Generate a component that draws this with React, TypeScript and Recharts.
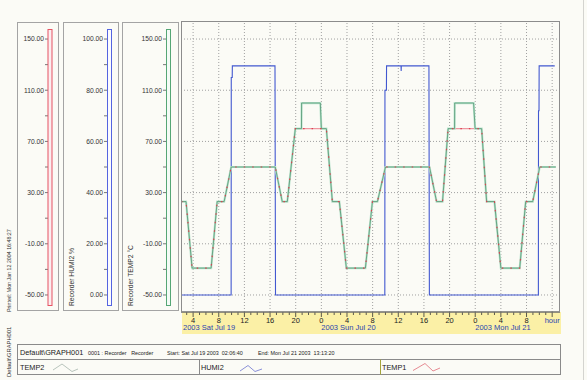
import { ComposedChart, Line, XAxis, YAxis, ReferenceLine } from "recharts";

const FONT = '"Liberation Sans", Arial, sans-serif';

// hours counted from Sat Jul 19 2003 00:00
const temp1Hours = [2.11, 2.9, 3.84, 6.81, 7.75, 8.84, 9.94, 16.81, 17.9, 18.69, 19.94, 24.78, 25.72, 26.81, 27.9, 30.87, 31.97, 32.75, 34.0, 40.87, 41.97, 42.9, 43.77, 49.0, 49.78, 51.0, 52.0, 54.94, 55.87, 56.97, 58.06, 60.56];
const temp1Values = [23, 23, -29, -29, 23, 23, 50, 50, 23, 23, 80, 80, 23, 23, -29, -29, 23, 23, 50, 50, 23, 23, 80, 80, 23, 23, -29, -29, 23, 23, 50, 50];

const temp2Hours = [2.11, 2.9, 3.84, 6.81, 7.75, 8.84, 9.94, 16.81, 17.9, 18.69, 19.94, 20.9, 20.92, 23.84, 24.0, 24.78, 25.72, 26.81, 27.9, 30.87, 31.97, 32.75, 34.0, 40.87, 41.97, 42.9, 43.77, 44.78, 44.8, 47.75, 47.98, 49.0, 49.78, 51.0, 52.0, 54.94, 55.87, 56.97, 58.06, 60.56];
const temp2Values = [23, 23, -29, -29, 23, 23, 50, 50, 23, 23, 80, 80, 100, 100, 80, 80, 23, 23, -29, -29, 23, 23, 50, 50, 23, 23, 80, 80, 100, 100, 80, 80, 23, 23, -29, -29, 23, 23, 50, 50];

const humiHours = [2.11, 9.93, 9.95, 10.1, 10.12, 16.77, 16.85, 33.9, 33.92, 34.15, 34.17, 36.43, 36.45, 36.47, 40.78, 40.85, 57.85, 57.87, 57.95, 57.97, 60.4];
const humiValues = [0, 0, 85, 85, 89.5, 89.5, 0, 0, 80, 80, 89.5, 89.5, 87.5, 89.5, 89.5, 0, 0, 72, 72, 89.5, 89.5];

const tempTicks = [-50, -30, -10, 10, 30, 50, 70, 90, 110, 130, 150];
const tempLabelled = [-50, -10, 30, 70, 110, 150];
const humiTicks = [0, 10, 20, 30, 40, 50, 60, 70, 80, 90, 100];
const humiLabelled = [0, 20, 40, 60, 80, 100];
const gridHours = [4, 8, 12, 16, 20, 24, 28, 32, 36, 40, 44, 48, 52, 56, 60];
const hourTicks = Array.from({ length: 58 }, (_, i) => i + 3);
const dayLabels = ["2003 Sat Jul 19", "2003 Sun Jul 20", "2003 Mon Jul 21"];
const seriesNames = ["TEMP2", "HUMI2", "TEMP1"];

const temp1Data = temp1Hours.map((h, i) => ({ h, v: temp1Values[i] }));
const temp2Data = temp2Hours.map((h, i) => ({ h, v: temp2Values[i] }));
const humiData = humiHours.map((h, i) => ({ h, v: humiValues[i] }));

const TEMP_DOMAIN = [-63.3, 164.1];
const HUMI_DOMAIN = [-6.65, 107.05];

const BLUE_TEXT = "#2b44b0";

function HourTick(props: any) {
  const { x, y, payload } = props;
  const h: number = payload.value;
  const major = h % 4 === 0;
  return (
    <g>
      <line x1={x} x2={x} y1={y} y2={y + (major ? 5 : 3)} stroke="#333" strokeWidth={0.8} />
      {major && h !== 60 && (
        <text x={x} y={y + 10.5} textAnchor="middle" fontSize={7.5} fill="#222" fontFamily={FONT}>
          {h % 24}
        </text>
      )}
      {h === 60 && (
        <text x={x} y={y + 10.5} textAnchor="middle" fontSize={7.5} fill={BLUE_TEXT} fontFamily={FONT}>
          hour
        </text>
      )}
      {h % 24 === 0 && (
        <text x={x} y={y + 18} textAnchor="start" fontSize={7.5} fill={BLUE_TEXT} fontFamily={FONT}>
          {dayLabels[h / 24]}
        </text>
      )}
    </g>
  );
}

const tickStyle = { fontSize: 6.7, fill: "#333", fontFamily: FONT };
const fmtTemp = (v: number) => (tempLabelled.includes(v) ? v.toFixed(2) : "");
const fmtHumi = (v: number) => (humiLabelled.includes(v) ? v.toFixed(2) : "");

export default function App() {
  return (
    <div
      style={{
        position: "absolute",
        left: 0,
        top: 0,
        width: 587,
        height: 380,
        background: "#fbfbf6",
        overflow: "hidden",
        fontFamily: FONT,
      }}
    >
      <div style={{ position: "absolute", left: 182, top: 312, width: 379, height: 22, background: "#fbf0a6" }} />
      <div style={{ position: "absolute", left: 0, top: 0 }}>
        <ComposedChart width={587} height={380} margin={{ top: 21, right: 27, bottom: 45, left: 0 }}>
          <XAxis
            type="number"
            dataKey="h"
            domain={[2.111, 61.222]}
            allowDataOverflow
            ticks={hourTicks}
            interval={0}
            tick={<HourTick />}
            tickLine={false}
            tickSize={0}
            tickMargin={0}
            axisLine={{ stroke: "#333" }}
            height={23}
            label={(p: any) => (
              <text
                x={(p?.viewBox?.x ?? 181) + 2}
                y={(p?.viewBox?.y ?? 312) + 18}
                fontSize={7.5}
                fill={BLUE_TEXT}
                fontFamily={FONT}
              >
                {dayLabels[0]}
              </text>
            )}
          />
          {/* left axes, inner to outer (ids sort the same way) */}
          <YAxis yAxisId="y1gap" width={15} domain={[0, 1]} tick={false} tickLine={false} axisLine={false} />
          <YAxis
            yAxisId="y2temp2"
            type="number"
            width={44}
            domain={TEMP_DOMAIN}
            allowDataOverflow
            ticks={tempTicks}
            interval={0}
            tickFormatter={fmtTemp}
            tick={tickStyle}
            tickSize={3}
            tickMargin={1}
            tickLine={{ stroke: "#777" }}
            axisLine={false}
            label={(p: any) => (
              <text
                transform={`translate(${(p?.viewBox?.x ?? 122) + 10.5},306) rotate(-90)`}
                fontSize={6.7}
                fill="#333"
                fontFamily={FONT}
              >
                Recorder TEMP2 °C
              </text>
            )}
          />
          <YAxis yAxisId="y3gap" width={15} domain={[0, 1]} tick={false} tickLine={false} axisLine={false} />
          <YAxis
            yAxisId="y4humi"
            type="number"
            width={44}
            domain={HUMI_DOMAIN}
            allowDataOverflow
            ticks={humiTicks}
            interval={0}
            tickFormatter={fmtHumi}
            tick={tickStyle}
            tickSize={3}
            tickMargin={1}
            tickLine={{ stroke: "#777" }}
            axisLine={false}
            label={(p: any) => (
              <text
                transform={`translate(${(p?.viewBox?.x ?? 63) + 10.5},306) rotate(-90)`}
                fontSize={6.7}
                fill="#333"
                fontFamily={FONT}
              >
                Recorder HUMI2 %
              </text>
            )}
          />
          <YAxis yAxisId="y5gap" width={15} domain={[0, 1]} tick={false} tickLine={false} axisLine={false} />
          <YAxis
            yAxisId="y6temp1"
            type="number"
            width={48}
            domain={TEMP_DOMAIN}
            allowDataOverflow
            ticks={tempTicks}
            interval={0}
            tickFormatter={fmtTemp}
            tick={tickStyle}
            tickSize={3}
            tickMargin={1}
            tickLine={{ stroke: "#777" }}
            axisLine={false}
          />

          {gridHours.map((h) => (
            <ReferenceLine key={"gx" + h} x={h} yAxisId="y2temp2" stroke="#a0a0a0" strokeDasharray="1 2" />
          ))}
          {tempLabelled.map((t) => (
            <ReferenceLine key={"gy" + t} y={t} yAxisId="y2temp2" stroke="#a0a0a0" strokeDasharray="1 2" />
          ))}

          <Line
            data={humiData}
            dataKey="v"
            yAxisId="y4humi"
            type="linear"
            stroke="#4258d0"
            strokeWidth={1.1}
            dot={false}
            isAnimationActive={false}
          />
          <Line
            data={temp1Data}
            dataKey="v"
            yAxisId="y6temp1"
            type="linear"
            stroke="#ee96a0"
            strokeWidth={1.2}
            dot={false}
            isAnimationActive={false}
          />
          <Line
            data={temp2Data}
            dataKey="v"
            yAxisId="y2temp2"
            type="linear"
            stroke="#bde6d0"
            strokeWidth={2.2}
            dot={false}
            isAnimationActive={false}
          />
          <Line
            data={temp2Data}
            dataKey="v"
            yAxisId="y2temp2"
            type="linear"
            stroke="#4f9470"
            strokeWidth={0.8}
            dot={false}
            isAnimationActive={false}
          />
          <Line
            data={temp1Data}
            dataKey="v"
            yAxisId="y6temp1"
            type="linear"
            stroke="#dc4050"
            strokeWidth={1.2}
            strokeDasharray="1.5 7"
            dot={false}
            isAnimationActive={false}
          />
        </ComposedChart>
      </div>

      <svg
        width={587}
        height={380}
        style={{ position: "absolute", left: 0, top: 0, pointerEvents: "none" }}
      >
        {/* axis panels */}
        <rect x={17.5} y={22.5} width={41} height={288} fill="none" stroke="#a4a4a4" />
        <rect x={63.5} y={22.5} width={55} height={288} fill="none" stroke="#a4a4a4" />
        <rect x={122.5} y={22.5} width={56} height={288} fill="none" stroke="#a4a4a4" />
        <rect x={48} y={29.5} width={4} height={276} fill="#fbeef0" stroke="#e65362" />
        <rect x={107.5} y={29.5} width={4} height={276} fill="#fbfbff" stroke="#5464e0" />
        <rect x={166.5} y={29.5} width={4} height={276} fill="#f4fbf6" stroke="#55a675" />
        {/* plot frame */}
        <rect x={181.5} y={21.5} width={378} height={290.5} fill="none" stroke="#8c8c8c" />
        <line x1={583.5} x2={583.5} y1={0} y2={380} stroke="#d4d4d0" />

        <text transform="translate(10.5,312) rotate(-90)" fontSize={5.3} fill="#333" fontFamily={FONT}>
          Printed: Mon Jan 12 2004  16:48:27
        </text>
        <text transform="translate(10.5,377) rotate(-90)" fontSize={5.8} fill="#333" fontFamily={FONT}>
          {"Default\\GRAPH001"}
        </text>

        {/* bottom info / legend box */}
        <rect x={17.5} y={344.5} width={543} height={30} fill="none" stroke="#8a8a8a" />
        <line x1={17.5} x2={560.5} y1={359.5} y2={359.5} stroke="#8a8a8a" />
        <line x1={199.5} x2={199.5} y1={359.5} y2={374.5} stroke="#8a8a8a" />
        <line x1={380.5} x2={380.5} y1={359.5} y2={374.5} stroke="#a4a43a" />
        <text x={20} y={354.5} fontSize={7.3} fill="#222" fontFamily={FONT}>
          {"Default\\GRAPH001"}
        </text>
        <text x={88} y={354.5} fontSize={5.4} fill="#222" fontFamily={FONT} xmlSpace="preserve">
          0001 : Recorder   Recorder
        </text>
        <text x={167} y={354.5} fontSize={5.4} fill="#222" fontFamily={FONT} xmlSpace="preserve">
          Start: Sat Jul 19 2003  02:06:40
        </text>
        <text x={258} y={354.5} fontSize={5.4} fill="#222" fontFamily={FONT} xmlSpace="preserve">
          End: Mon Jul 21 2003  13:13:20
        </text>

        <text x={20} y={369.5} fontSize={7.3} fill="#222" fontFamily={FONT}>{seriesNames[0]}</text>
        <polyline points="53,370 62,364 72,371.5 78,369" fill="none" stroke="#b8c4bc" />
        <text x={201} y={369.5} fontSize={7.3} fill="#222" fontFamily={FONT}>{seriesNames[1]}</text>
        <polyline points="240,371 248,365.5 255,371.5 262,369" fill="none" stroke="#8a90d8" />
        <text x={382} y={369.5} fontSize={7.3} fill="#222" fontFamily={FONT}>{seriesNames[2]}</text>
        <polyline points="413,370.5 425,363.5 433,371 440,368" fill="none" stroke="#e68a92" />
      </svg>
    </div>
  );
}
